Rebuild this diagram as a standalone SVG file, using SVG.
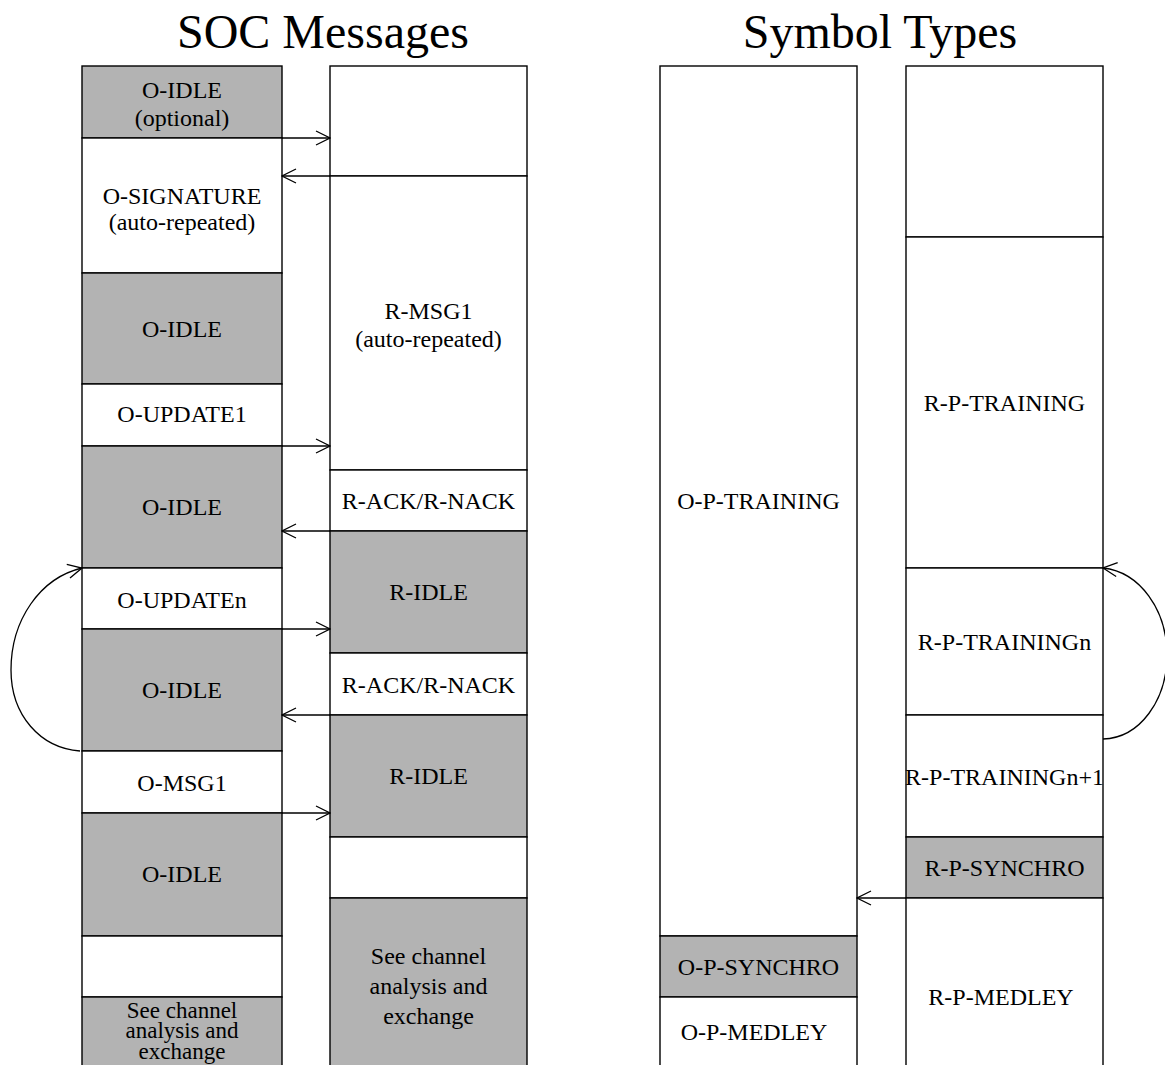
<svg xmlns="http://www.w3.org/2000/svg" width="1165" height="1065" viewBox="0 0 1165 1065">
  <style>
    .cell { stroke: #000; stroke-width: 1.4; }
    .idle { fill: #b3b3b3; }
    .plain { fill: #fff; }
    .lbl { font-family: "Liberation Serif", "Times New Roman", serif; font-size: 24px; fill: #000; text-anchor: middle; }
    .tight { font-size: 23px; }
    .title { font-family: "Liberation Serif", "Times New Roman", serif; font-size: 48px; fill: #000; text-anchor: middle; }
    .conn { fill: none; stroke: #000; stroke-width: 1.3; }
  </style>
  <defs>
    <marker id="open" viewBox="0 0 16 16" refX="15" refY="8" markerWidth="16" markerHeight="16" markerUnits="userSpaceOnUse" orient="auto">
      <path d="M1,1 L15,8 L1,15" fill="none" stroke="#000" stroke-width="1.3"/>
    </marker>
  </defs>
  <rect width="1165" height="1065" fill="#fff"/>

  <text class="title" x="323" y="48">SOC Messages</text>
  <text class="title" x="880" y="48">Symbol Types</text>

  <!-- Column 1: ATU-C messages -->
  <g id="o-idle-optional"><rect class="cell idle" x="82" y="66" width="200" height="72"/>
    <text class="lbl" x="182" y="98">O-IDLE</text><text class="lbl" x="182" y="126">(optional)</text></g>
  <g id="o-signature"><rect class="cell plain" x="82" y="138" width="200" height="135"/>
    <text class="lbl" x="182" y="204">O-SIGNATURE</text><text class="lbl" x="182" y="230">(auto-repeated)</text></g>
  <g id="o-idle-1"><rect class="cell idle" x="82" y="273" width="200" height="111"/>
    <text class="lbl" x="182" y="337">O-IDLE</text></g>
  <g id="o-update1"><rect class="cell plain" x="82" y="384" width="200" height="62"/>
    <text class="lbl" x="182" y="422">O-UPDATE1</text></g>
  <g id="o-idle-2"><rect class="cell idle" x="82" y="446" width="200" height="122"/>
    <text class="lbl" x="182" y="515">O-IDLE</text></g>
  <g id="o-updaten"><rect class="cell plain" x="82" y="568" width="200" height="61"/>
    <text class="lbl" x="182" y="608">O-UPDATEn</text></g>
  <g id="o-idle-3"><rect class="cell idle" x="82" y="629" width="200" height="122"/>
    <text class="lbl" x="182" y="698">O-IDLE</text></g>
  <g id="o-msg1"><rect class="cell plain" x="82" y="751" width="200" height="62"/>
    <text class="lbl" x="182" y="791">O-MSG1</text></g>
  <g id="o-idle-4"><rect class="cell idle" x="82" y="813" width="200" height="123"/>
    <text class="lbl" x="182" y="882">O-IDLE</text></g>
  <g id="o-blank"><rect class="cell plain" x="82" y="936" width="200" height="61"/></g>
  <g id="o-channel-analysis"><rect class="cell idle" x="82" y="997" width="200" height="80"/>
    <text class="lbl tight" x="182" y="1018">See channel</text><text class="lbl tight" x="182" y="1038">analysis and</text><text class="lbl tight" x="182" y="1059">exchange</text></g>

  <!-- Column 2: ATU-R messages -->
  <g id="r-blank-top"><rect class="cell plain" x="330" y="66" width="197" height="110"/></g>
  <g id="r-msg1"><rect class="cell plain" x="330" y="176" width="197" height="294"/>
    <text class="lbl" x="428.5" y="319">R-MSG1</text><text class="lbl" x="428.5" y="347">(auto-repeated)</text></g>
  <g id="r-ack-1"><rect class="cell plain" x="330" y="470" width="197" height="61"/>
    <text class="lbl" x="428.5" y="509">R-ACK/R-NACK</text></g>
  <g id="r-idle-1"><rect class="cell idle" x="330" y="531" width="197" height="122"/>
    <text class="lbl" x="428.5" y="600">R-IDLE</text></g>
  <g id="r-ack-2"><rect class="cell plain" x="330" y="653" width="197" height="62"/>
    <text class="lbl" x="428.5" y="693">R-ACK/R-NACK</text></g>
  <g id="r-idle-2"><rect class="cell idle" x="330" y="715" width="197" height="122"/>
    <text class="lbl" x="428.5" y="784">R-IDLE</text></g>
  <g id="r-blank"><rect class="cell plain" x="330" y="837" width="197" height="61"/></g>
  <g id="r-channel-analysis"><rect class="cell idle" x="330" y="898" width="197" height="180"/>
    <text class="lbl" x="428.5" y="964">See channel</text><text class="lbl" x="428.5" y="994">analysis and</text><text class="lbl" x="428.5" y="1024">exchange</text></g>

  <!-- Column 3: ATU-C symbols -->
  <g id="o-p-training"><rect class="cell plain" x="660" y="66" width="197" height="870"/>
    <text class="lbl" x="758.5" y="509">O-P-TRAINING</text></g>
  <g id="o-p-synchro"><rect class="cell idle" x="660" y="936" width="197" height="61"/>
    <text class="lbl" x="758.5" y="975">O-P-SYNCHRO</text></g>
  <g id="o-p-medley"><rect class="cell plain" x="660" y="997" width="197" height="80"/>
    <text class="lbl" x="754" y="1040">O-P-MEDLEY</text></g>

  <!-- Column 4: ATU-R symbols -->
  <g id="r-p-blank"><rect class="cell plain" x="906" y="66" width="197" height="171"/></g>
  <g id="r-p-training"><rect class="cell plain" x="906" y="237" width="197" height="331"/>
    <text class="lbl" x="1004.5" y="411">R-P-TRAINING</text></g>
  <g id="r-p-trainingn"><rect class="cell plain" x="906" y="568" width="197" height="147"/>
    <text class="lbl" x="1004.5" y="650">R-P-TRAININGn</text></g>
  <g id="r-p-trainingn1"><rect class="cell plain" x="906" y="715" width="197" height="122"/>
    <text class="lbl" x="1004.5" y="785">R-P-TRAININGn+1</text></g>
  <g id="r-p-synchro"><rect class="cell idle" x="906" y="837" width="197" height="61"/>
    <text class="lbl" x="1004.5" y="876">R-P-SYNCHRO</text></g>
  <g id="r-p-medley"><rect class="cell plain" x="906" y="898" width="197" height="180"/>
    <text class="lbl" x="1001" y="1005">R-P-MEDLEY</text></g>

  <!-- Connectors -->
  <g id="connectors">
    <path class="conn" d="M282,138 H330" marker-end="url(#open)"/>
    <path class="conn" d="M330,176 H282" marker-end="url(#open)"/>
    <path class="conn" d="M282,446 H330" marker-end="url(#open)"/>
    <path class="conn" d="M330,531 H282" marker-end="url(#open)"/>
    <path class="conn" d="M282,629 H330" marker-end="url(#open)"/>
    <path class="conn" d="M330,715 H282" marker-end="url(#open)"/>
    <path class="conn" d="M282,813 H330" marker-end="url(#open)"/>
    <path class="conn" d="M906,898 H857" marker-end="url(#open)"/>
    <!-- repeat loops -->
    <path class="conn" d="M80,751 C40,748 11,715 11,670 C11,620 40,578 82,568" marker-end="url(#open)"/>
    <path class="conn" d="M1103,739 C1140,738 1167,700 1167,655 C1167,610 1140,572 1103,568" marker-end="url(#open)"/>
  </g>
</svg>
